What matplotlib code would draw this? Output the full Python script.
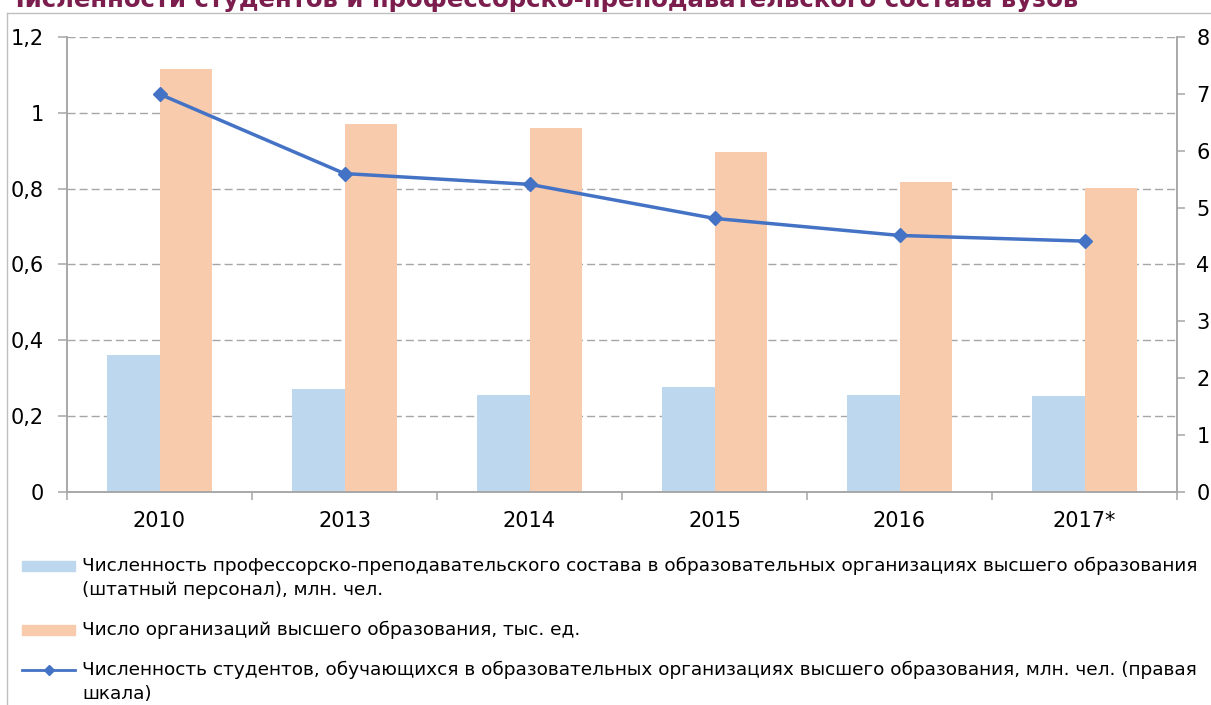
import matplotlib.pyplot as plt
from matplotlib.lines import Line2D
from matplotlib.patches import Rectangle
from matplotlib.ticker import FixedLocator, FuncFormatter, NullFormatter

plt.rcParams['font.family'] = ['DejaVu Sans']

years = ['2010', '2013', '2014', '2015', '2016', '2017*']
staff = [0.360, 0.271, 0.255, 0.275, 0.254, 0.252]      # млн. чел., левая шкала
orgs = [1.115, 0.970, 0.960, 0.896, 0.818, 0.802]       # тыс. ед., левая шкала
students = [7.0, 5.6, 5.41, 4.81, 4.51, 4.41]           # млн. чел., правая шкала

lab_staff = ('Численность профессорско-преподавательского состава в образовательных '
             'организациях высшего образования\n(штатный персонал), млн. чел.')
lab_orgs = 'Число организаций высшего образования, тыс. ед.'
lab_students = ('Численность студентов, обучающихся в образовательных организациях '
                'высшего образования, млн. чел. (правая\nшкала)')
title = 'Численности студентов и профессорско-преподавательского состава вузов'

c_blue = '#BDD7EE'
c_orange = '#F8CBAD'
c_line = '#4472C4'
c_axis = '#A6A6A6'

W, H = 1211, 705
fig = plt.figure(figsize=(W / 100, H / 100), dpi=100)
ax = fig.add_axes([67 / W, 1 - 491.5 / H, 1110 / W, 454.2 / H])
ax2 = ax.twinx()

x = list(range(len(years)))
bw = 0.284
ax.bar([i - bw / 2 for i in x], staff, width=bw, color=c_blue, zorder=2)
ax.bar([i + bw / 2 for i in x], orgs, width=bw, color=c_orange, zorder=2)
ax2.plot(x, students, color=c_line, lw=2.5, marker='D', ms=7.5, zorder=3)

ax.set_xlim(-0.5, len(years) - 0.5)
ax.set_ylim(0, 1.2)
ax2.set_ylim(0, 8)

ax.set_yticks([0, 0.2, 0.4, 0.6, 0.8, 1.0, 1.2])
ax.yaxis.set_major_formatter(FuncFormatter(lambda v, p: f'{v:g}'.replace('.', ',')))
ax2.set_yticks(range(0, 9))

ax.xaxis.set_major_locator(FixedLocator([i - 0.5 for i in range(len(years) + 1)]))
ax.xaxis.set_major_formatter(NullFormatter())
ax.xaxis.set_minor_locator(FixedLocator(x))
ax.set_xticklabels(years, minor=True)
ax.tick_params(axis='x', which='minor', length=0, pad=14, labelsize=15)
ax.tick_params(axis='x', which='major', length=6, width=1.1, color=c_axis)
ax.tick_params(axis='y', length=6.5, width=1.1, color=c_axis, pad=10, labelsize=15)
ax2.tick_params(axis='y', length=6, width=1.1, color=c_axis, pad=8, labelsize=15)

ax.grid(axis='y', color=c_axis, lw=1.0, dashes=(5.8, 2.9), zorder=0)
ax.set_axisbelow(True)

for a in (ax, ax2):
    a.spines['top'].set_visible(False)
    for s in ('left', 'right', 'bottom'):
        a.spines[s].set_color(c_axis)
        a.spines[s].set_linewidth(1.1)

# рамка диаграммы и заголовок, обрезанный сверху, как в оригинале
fig.add_artist(Line2D([7 / W, 7 / W], [0, 1 - 13 / H], color='#BFBFBF', lw=1))
fig.add_artist(Line2D([7 / W, 1], [1 - 13 / H, 1 - 13 / H], color='#BFBFBF', lw=1))
fig.text(5 / W, 1 - 7.5 / H, title, fontsize=17.6, fontweight='bold', color='#7B1E4E',
         ha='left', va='baseline')

# легенда: значок напротив первой строки подписи
def fy(py):
    return 1 - py / H

rows = [(lab_staff, 566, 'bar', c_blue),
        (lab_orgs, 630, 'bar', c_orange),
        (lab_students, 670, 'line', c_line)]
for label, yc, kind, col in rows:
    if kind == 'bar':
        fig.add_artist(Rectangle((22 / W, fy(yc + 5)), 53 / W, 10 / H,
                                 color=col, transform=fig.transFigure))
    else:
        fig.add_artist(Line2D([22 / W, 75 / W], [fy(yc), fy(yc)], color=col, lw=2))
        fig.add_artist(Line2D([48.5 / W], [fy(yc)], color=col, marker='D', ms=5))
    fig.text(82 / W, fy(yc - 9), label, fontsize=13.3, ha='left', va='top',
             linespacing=1.4)

fig.savefig('out.png', dpi=100)
